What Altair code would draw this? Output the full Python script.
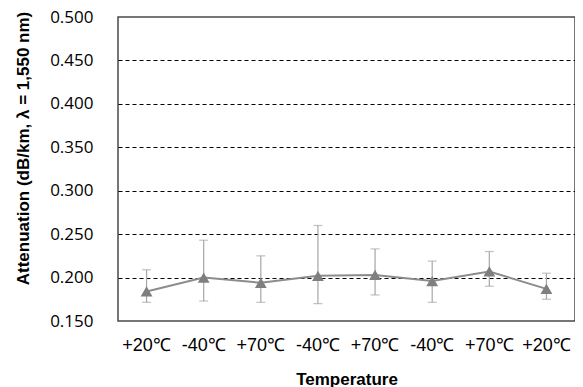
import altair as alt
import pandas as pd

labels = ["+20℃", "-40℃", "+70℃", "-40℃", "+70℃", "-40℃", "+70℃", "+20℃"]
means = [0.184, 0.200, 0.194, 0.202, 0.203, 0.196, 0.207, 0.187]
upper = [0.209, 0.243, 0.225, 0.260, 0.233, 0.219, 0.230, 0.205]
lower = [0.1715, 0.173, 0.1715, 0.170, 0.180, 0.1715, 0.190, 0.175]
y_ticks = [0.15, 0.2, 0.25, 0.3, 0.35, 0.4, 0.45, 0.5]

df = pd.DataFrame({
    "idx": list(range(len(labels))),
    "label": labels,
    "mean": means,
    "hi": upper,
    "lo": lower,
})

label_expr = "[" + ",".join("'" + l + "'" for l in labels) + "][datum.value]"

x = alt.X(
    "idx:O",
    scale=alt.Scale(paddingInner=0, paddingOuter=0),
    axis=alt.Axis(
        labelExpr=label_expr,
        labelAngle=0,
        labelFont="Liberation Sans",
        labelFontSize=18,
        labelColor="#000000",
        labelPadding=15,
        ticks=False,
        tickSize=0,
        domain=False,
        title="Temperature",
        titleFont="Liberation Sans",
        titleFontSize=17,
        titleFontWeight="bold",
        titleColor="#000000",
        titleY=50,
        titleBaseline="top",
    ),
)

y_scale = alt.Scale(domain=[0.15, 0.5], nice=False, zero=False)

base = alt.Chart(df)

line = base.mark_line(color="#8c8c8c", strokeWidth=2).encode(
    x=x,
    y=alt.Y(
        "mean:Q",
        scale=y_scale,
        axis=alt.Axis(
            values=y_ticks,
            format=".3f",
            labelFont="Open Sans",
            labelFontSize=17,
            labelColor="#000000",
            labelPadding=25,
            ticks=False,
            tickSize=0,
            domain=False,
            grid=True,
            gridColor="#000000",
            gridDash=[4, 3],
            gridWidth=1,
            gridOpacity={
                "condition": {"test": "datum.value >= 0.499 || datum.value <= 0.151", "value": 0},
                "value": 1,
            },
            title="Attenuation (dB/km, λ = 1,550 nm)",
            titleFont="Liberation Sans",
            titleFontSize=17,
            titleFontWeight="bold",
            titleColor="#000000",
            titleX=-95,
            titleY=131,
            titleAlign="center",
            titleBaseline="middle",
            titleAngle=270,
        ),
    ),
)

rules = base.mark_rule(color="#a6a6a6", strokeWidth=1.2).encode(
    x=x,
    y=alt.Y("lo:Q", scale=y_scale),
    y2="hi:Q",
)

cap_hi = base.mark_tick(color="#a6a6a6", size=9, thickness=1.2, orient="horizontal").encode(
    x=x, y=alt.Y("hi:Q", scale=y_scale)
)
cap_lo = base.mark_tick(color="#a6a6a6", size=9, thickness=1.2, orient="horizontal").encode(
    x=x, y=alt.Y("lo:Q", scale=y_scale)
)

points = base.mark_point(
    shape="triangle-up", filled=True, color="#7f7f7f", size=140, opacity=1
).encode(x=x, y=alt.Y("mean:Q", scale=y_scale))

chart = alt.layer(rules, cap_hi, cap_lo, line, points).properties(
    width=457,
    height=304,
    autosize=alt.AutoSizeParams(type="none"),
    padding={"left": 110, "top": 9, "right": 0, "bottom": 66},
).configure(
    background="#ffffff",
    view=alt.ViewConfig(stroke="#4a4a4a", strokeWidth=1.5),
)

chart.save("out.html", embed_options={"renderer": "svg", "actions": False})
